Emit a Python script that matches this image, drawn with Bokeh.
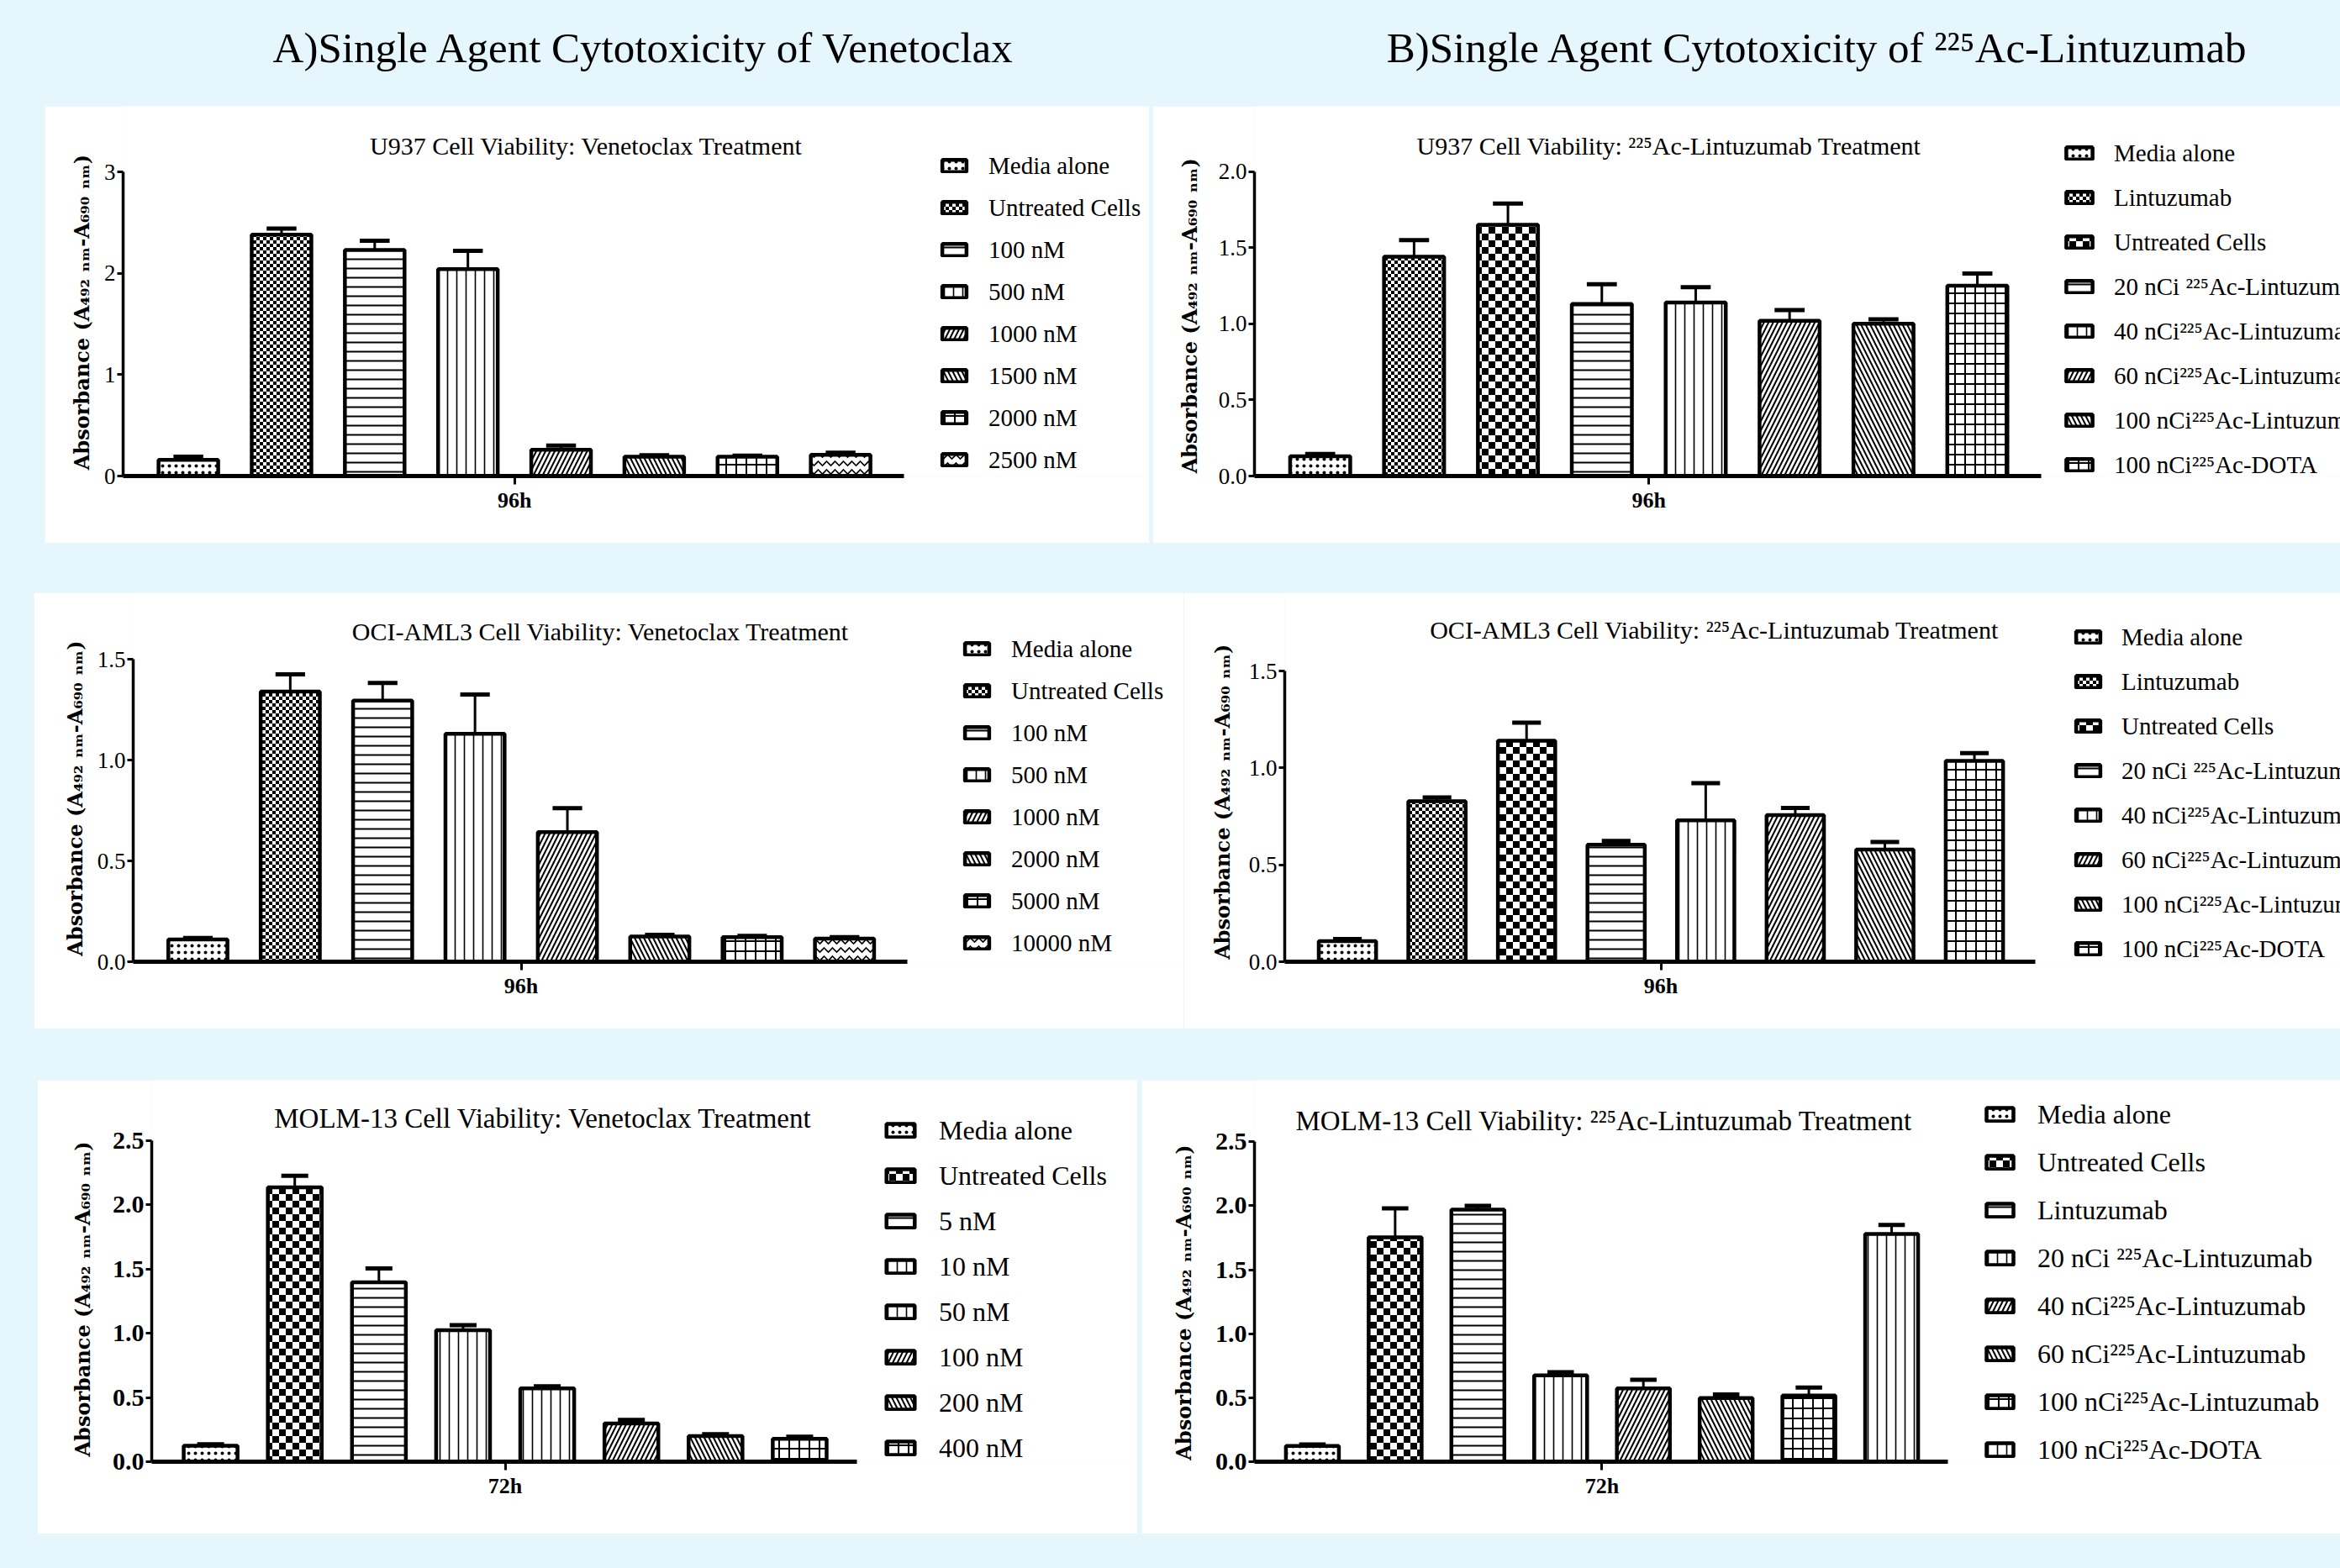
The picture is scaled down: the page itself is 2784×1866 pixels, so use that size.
import zlib
import struct
import base64
import math

from bokeh.plotting import figure
from bokeh.models import (Range1d, FixedTicker, NumeralTickFormatter, Label, Legend, LegendItem,
                          ColumnDataSource, Spacer, ImageURLTexture)
from bokeh.layouts import column, row
from bokeh.embed import file_html
from bokeh.resources import INLINE

BG = "#E6F6FD"

# ------------------------------------------------------------------ data
x_pos = [1, 2, 3, 4, 5, 6, 7, 8]

u937_ven_labels = ["Media alone", "Untreated Cells", "100 nM", "500 nM", "1000 nM", "1500 nM", "2000 nM", "2500 nM"]
u937_ven_means = [0.16, 2.38, 2.23, 2.04, 0.26, 0.19, 0.19, 0.21]
u937_ven_sem = [0.03, 0.06, 0.09, 0.18, 0.04, 0.015, 0.012, 0.02]

u937_ac_labels = ["Media alone", "Lintuzumab", "Untreated Cells", "20 nCi ²²⁵Ac-Lintuzumab",
                  "40 nCi²²⁵Ac-Lintuzumab", "60 nCi²²⁵Ac-Lintuzumab", "100 nCi²²⁵Ac-Lintuzumab",
                  "100 nCi²²⁵Ac-DOTA"]
u937_ac_means = [0.13, 1.44, 1.65, 1.13, 1.14, 1.02, 1.00, 1.25]
u937_ac_sem = [0.015, 0.11, 0.14, 0.13, 0.10, 0.07, 0.03, 0.08]

oci_ven_labels = ["Media alone", "Untreated Cells", "100 nM", "500 nM", "1000 nM", "2000 nM", "5000 nM", "10000 nM"]
oci_ven_means = [0.11, 1.34, 1.295, 1.13, 0.643, 0.125, 0.122, 0.115]
oci_ven_sem = [0.008, 0.085, 0.087, 0.195, 0.118, 0.008, 0.006, 0.007]

oci_ac_labels = u937_ac_labels
oci_ac_means = [0.106, 0.828, 1.141, 0.604, 0.73, 0.757, 0.579, 1.037]
oci_ac_sem = [0.011, 0.02, 0.093, 0.02, 0.192, 0.037, 0.039, 0.04]

molm_ven_labels = ["Media alone", "Untreated Cells", "5 nM", "10 nM", "50 nM", "100 nM", "200 nM", "400 nM"]
molm_ven_means = [0.124, 2.136, 1.398, 1.024, 0.571, 0.298, 0.2, 0.179]
molm_ven_sem = [0.012, 0.09, 0.107, 0.04, 0.017, 0.028, 0.014, 0.016]

molm_ac_labels = ["Media alone", "Untreated Cells", "Lintuzumab", "20 nCi ²²⁵Ac-Lintuzumab",
                  "40 nCi²²⁵Ac-Lintuzumab", "60 nCi²²⁵Ac-Lintuzumab", "100 nCi²²⁵Ac-Lintuzumab",
                  "100 nCi²²⁵Ac-DOTA"]
molm_ac_means = [0.123, 1.754, 1.97, 0.675, 0.573, 0.498, 0.517, 1.78]
molm_ac_sem = [0.012, 0.226, 0.03, 0.025, 0.067, 0.028, 0.063, 0.07]

y_label = "Absorbance (A₄₉₂ ₙₘ-A₆₉₀ ₙₘ)"


# ------------------------------------------------------------------ styles
def checker_png(cell):
    """Small black/white checkerboard tile as a PNG data URL (used as a fill texture)."""
    n = 2 * cell
    raw = b""
    for yy in range(n):
        raw += b"\x00" + bytes(0 if ((xx // cell + yy // cell) % 2 == 0) else 255 for xx in range(n))

    def chunk(tag, data):
        return (struct.pack(">I", len(data)) + tag + data +
                struct.pack(">I", zlib.crc32(tag + data) & 0xFFFFFFFF))

    png = (b"\x89PNG\r\n\x1a\n" +
           chunk(b"IHDR", struct.pack(">IIBBBBB", n, n, 8, 0, 0, 0, 0)) +
           chunk(b"IDAT", zlib.compress(raw)) +
           chunk(b"IEND", b""))
    return "data:image/png;base64," + base64.b64encode(png).decode()


TEXTURES = {
    "chk_s": ImageURLTexture(url=checker_png(4)),
    "chk_b": ImageURLTexture(url=checker_png(8)),
}

STY = {
    "dot":   ("dot", 8, 2.0),
    "fchk":  ("chk_s", 8, 1.0),
    "bchk":  ("chk_b", 16, 1.0),
    "hline": ("horizontal_line", 11, 2.0),
    "vline": ("vertical_line", 11, 1.6),
    "rdiag": ("right_diagonal_line", 11, 2.0),
    "ldiag": ("left_diagonal_line", 11, 2.0),
    "grid":  ("cross", 12, 2.0),
    "zig":   ("horizontal_wave", 10, 1.6),
}

X0, X1 = 0.3, 8.68   # visible x extent of the bar area (axis bounds)
LABEL_FONT = 24      # px, y axis title
LABEL_LEN = 376      # px, approximate rendered length of the y axis title
NBSP_W = 0.348 * LABEL_FONT


def padded_ylabel(text, top_px, frame_px):
    # The frame reaches the panel top, so the centred axis title sits top_px/2 too high;
    # trailing no-break spaces (at the top end of the rotated text) bring it back down,
    # without letting the padded text run past the panel's top edge.
    want = int(round(top_px / NBSP_W))
    fit = int(math.floor((frame_px - 6 - LABEL_LEN) / NBSP_W))
    return text + "\u00a0" * max(min(want, fit), 0)


def panel(W, H, L, R, T, B, ymax, yticks, yfmt, xlab, labels, means, sem, styles,
          title, tpos, tfont, tick_font, tick_style, lab_standoff, leg_font, item_h, leg_spacing,
          leg_loc, gw, gh, standoff):
    # frame spans from the y axis to the right edge and from the top edge to the x axis;
    # axis lines are limited with bounds so they stop where the reference's do.
    x_end = X0 + (X1 - X0) * (W - L) / (W - L - R)
    y_end = ymax * (H - B) / (H - B - T)
    p = figure(width=W, height=H, x_range=Range1d(X0, x_end), y_range=Range1d(0, y_end),
               output_backend="svg", toolbar_location=None,
               min_border_left=L, min_border_right=0, min_border_top=0, min_border_bottom=B,
               background_fill_color="white", border_fill_color="white", outline_line_color=None)
    p.grid.visible = False

    src = ColumnDataSource(dict(
        x=x_pos, top=means,
        pat=[STY[s][0] for s in styles],
        sc=[STY[s][1] for s in styles],
        hw=[STY[s][2] for s in styles],
    ))
    r = p.vbar(x="x", top="top", bottom=0, width=0.64, source=src,
               fill_color="white", line_color="black", line_width=4.5,
               hatch_pattern="pat", hatch_scale="sc", hatch_weight="hw", hatch_color="black",
               hatch_extra=TEXTURES)

    tops = [m + e for m, e in zip(means, sem)]
    p.segment(x0=x_pos, x1=x_pos, y0=means, y1=tops, line_color="black", line_width=3)
    p.segment(x0=[x - 0.16 for x in x_pos], x1=[x + 0.16 for x in x_pos], y0=tops, y1=tops,
              line_color="black", line_width=5)

    xa = p.xaxis[0]
    xa.bounds = (X0, X1)
    xa.ticker = FixedTicker(ticks=[4.5])
    xa.major_label_overrides = {4.5: xlab}
    xa.axis_line_width = 5
    xa.axis_line_color = "black"
    xa.major_tick_line_width = 3
    xa.major_tick_out = 10
    xa.major_tick_in = 0
    xa.minor_tick_out = 0
    xa.minor_tick_in = 0
    xa.major_label_standoff = 4
    xa.major_label_text_font = "Liberation Serif"
    xa.major_label_text_font_style = "bold"
    xa.major_label_text_font_size = "26px"
    xa.major_label_text_color = "black"

    ya = p.yaxis[0]
    ya.bounds = (0, ymax)
    ya.ticker = FixedTicker(ticks=yticks)
    ya.formatter = NumeralTickFormatter(format=yfmt)
    ya.axis_line_width = 3.5
    ya.axis_line_color = "black"
    ya.major_tick_line_width = 3
    ya.major_tick_out = 7
    ya.major_tick_in = 0
    ya.minor_tick_out = 0
    ya.minor_tick_in = 0
    ya.major_label_standoff = 2
    ya.major_label_text_font = "Liberation Serif"
    ya.major_label_text_font_size = tick_font
    ya.major_label_text_font_style = tick_style
    ya.major_label_text_color = "black"
    ya.axis_label = padded_ylabel(y_label, T, H - B)
    ya.axis_label_text_font = "DejaVu Serif"
    ya.axis_label_text_font_style = "bold"
    ya.axis_label_text_font_size = f"{LABEL_FONT}px"
    ya.axis_label_text_color = "black"
    ya.axis_label_standoff = lab_standoff

    items = [LegendItem(label=lab, renderers=[r], index=i) for i, lab in enumerate(labels)]
    leg = Legend(items=items, location=leg_loc, orientation="vertical", padding=0, margin=0,
                 spacing=int(round(leg_spacing)), glyph_width=gw, glyph_height=gh,
                 label_standoff=standoff, label_height=item_h, label_text_font="Liberation Serif",
                 label_text_font_size=leg_font, label_text_color="black",
                 border_line_color=None, background_fill_alpha=0)
    p.add_layout(leg)

    p.add_layout(Label(x=tpos[0], y=tpos[1], x_units="screen", y_units="screen", text=title,
                       text_align="center", text_baseline="middle", text_font="Liberation Serif",
                       text_font_size=tfont, text_color="black"))
    return p


A1 = panel(1314, 520, 93, 292, 78, 80, 3, [0, 1, 2, 3], "0", "96h",
           u937_ven_labels, u937_ven_means, u937_ven_sem,
           ["dot", "fchk", "hline", "vline", "rdiag", "ldiag", "grid", "zig"],
           "U937 Cell  Viability: Venetoclax Treatment", (555, 393), "30px",
           "27px", "normal", 9, "29px", 34, 16, (971, 2), 36, 18, 23)

B1 = panel(1413, 520, 121, 356, 78, 78, 2, [0, 0.5, 1, 1.5, 2], "0.0", "96h",
           u937_ac_labels, u937_ac_means, u937_ac_sem,
           ["dot", "fchk", "bchk", "hline", "vline", "rdiag", "ldiag", "grid"],
           "U937 Cell  Viability: ²²⁵Ac-Lintuzumab Treatment", (497, 393), "30px",
           "27px", "normal", 17, "29px", 34, 19, (962, -4), 39, 18, 22)

A2 = panel(1368, 519, 118, 329, 79, 80, 1.5, [0, 0.5, 1, 1.5], "0.0", "96h",
           oci_ven_labels, oci_ven_means, oci_ven_sem,
           ["dot", "fchk", "hline", "vline", "rdiag", "ldiag", "grid", "zig"],
           "OCI-AML3 Cell  Viability: Venetoclax Treatment", (560, 393), "30px",
           "27px", "normal", 9, "29px", 34, 16, (986, 5), 36, 18, 23)

B2 = panel(1376, 519, 120, 363, 94, 76, 1.5, [0, 0.5, 1, 1.5], "0.0", "96h",
           oci_ac_labels, oci_ac_means, oci_ac_sem,
           ["dot", "fchk", "bchk", "hline", "vline", "rdiag", "ldiag", "grid"],
           "OCI-AML3 Cell  Viability: ²²⁵Ac-Lintuzumab Treatment", (515, 395), "30px",
           "27px", "normal", 14, "29px", 34, 19, (938, -2), 36, 18, 22)

A3 = panel(1309, 540, 136, 334, 72, 86, 2.5, [0, 0.5, 1, 1.5, 2, 2.5], "0.0", "72h",
           molm_ven_labels, molm_ven_means, molm_ven_sem,
           ["dot", "bchk", "hline", "vline", "vline", "rdiag", "ldiag", "grid"],
           "MOLM-13 Cell  Viability: Venetoclax Treatment", (470, 409), "33px",
           "30px", "bold", 18, "32px", 38, 16, (870, -3), 42, 20, 25)

B3 = panel(1426, 540, 134, 467, 74, 82, 2.5, [0, 0.5, 1, 1.5, 2, 2.5], "0.0", "72h",
           molm_ac_labels, molm_ac_means, molm_ac_sem,
           ["dot", "bchk", "hline", "vline", "rdiag", "ldiag", "grid", "vline"],
           "MOLM-13 Cell  Viability: ²²⁵Ac-Lintuzumab Treatment", (420, 406), "33px",
           "30px", "bold", 20, "32px", 38, 19, (867, -5), 40, 20, 25)

# ------------------------------------------------------------------ header
hdr = figure(width=2784, height=126, x_range=Range1d(0, 2784), y_range=Range1d(0, 126),
             output_backend="svg", toolbar_location=None, min_border=0,
             x_axis_type=None, y_axis_type=None,
             background_fill_color=BG, border_fill_color=BG, outline_line_color=None)
hdr.grid.visible = False
hdr.add_layout(Label(x=766, y=70, text="A)Single Agent Cytotoxicity of Venetoclax",
                     text_align="center", text_baseline="middle", text_font="Liberation Serif",
                     text_font_size="51px", text_color="black"))
hdr.add_layout(Label(x=2162, y=70, text="B)Single Agent Cytotoxicity of ²²⁵Ac-Lintuzumab",
                     text_align="center", text_baseline="middle", text_font="Liberation Serif",
                     text_font_size="51px", text_color="black"))


def sp(w=None, h=None):
    kw = {}
    if w is not None:
        kw["width"] = w
    if h is not None:
        kw["height"] = h
    return Spacer(styles={"background-color": BG}, **kw)


layout = column(
    hdr,
    row(sp(53, 520), A1, sp(4, 520), B1),
    sp(2784, 59),
    row(sp(40, 519), A2, B2),
    sp(2784, 61),
    row(sp(44, 540), A3, sp(5, 540), B3),
    sp(2784, 38),
    styles={"background-color": BG},
)

TEMPLATE = """
{% block postamble %}<style>html, body { background-color: #E6F6FD; }</style>{% endblock %}
"""

open("out.html", "w").write(file_html(layout, INLINE, title="Cytotoxicity", template=TEMPLATE))
